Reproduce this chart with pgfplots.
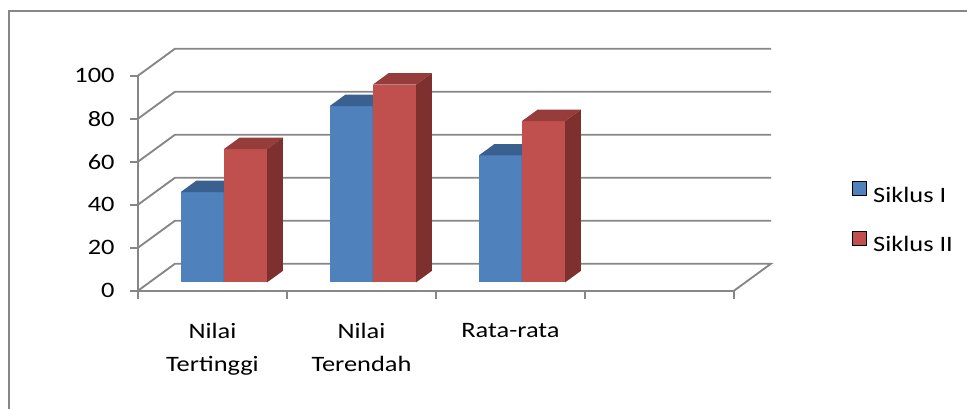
\documentclass[border=0pt]{standalone}
\usepackage{pgfplots}
\pgfplotsset{compat=1.18}
\usepackage{fontspec}
\setmainfont{Carlito}[FakeStretch=1.2]

\definecolor{gridgray}{RGB}{134,134,134}
\definecolor{sone}{RGB}{79,129,189}
\definecolor{sonetop}{RGB}{58,96,143}
\definecolor{soneside}{RGB}{45,77,117}
\definecolor{stwo}{RGB}{192,80,77}
\definecolor{stwotop}{RGB}{150,60,58}
\definecolor{stwoside}{RGB}{125,48,46}

% One column as a box: left x, right x, value, colour name
\newcommand{\cuboid}[4]{%
  \addplot3[fill=#4, draw=none] coordinates {(#1,0.31,0) (#2,0.31,0) (#2,0.31,#3) (#1,0.31,#3)} -- cycle;
  \addplot3[fill=#4top, draw=none] coordinates {(#1,0.31,#3) (#2,0.31,#3) (#2,0.735,#3) (#1,0.735,#3)} -- cycle;
  \addplot3[fill=#4side, draw=none] coordinates {(#2,0.31,0) (#2,0.735,0) (#2,0.735,#3) (#2,0.31,#3)} -- cycle;
}

\begin{document}
\begin{tikzpicture}
\useasboundingbox (0,0) rectangle (725.25pt,306pt);
% chart area frame
\draw[gridgray, line width=1.5pt] (6.75pt,-10pt) -- (6.75pt,297.75pt) -- (740pt,297.75pt);

% walls, floor and columns (oblique projection)
\begin{axis}[
  hide axis, clip=false,
  anchor=origin, at={(103.5pt,87.975pt)},
  x={(111.75pt,0pt)}, y={(27.75pt,20.25pt)}, z={(0pt,1.6125pt)},
  xmin=0, xmax=4, ymin=0, ymax=1, zmin=0, zmax=100,
  no markers,
  grid line/.style={gridgray, line width=1.4pt},
]
\addplot3[grid line] coordinates {(0,0,0) (0,1,0) (4,1,0) (4,0,0)};
\addplot3[grid line] coordinates {(0,0,20) (0,1,20) (4,1,20)};
\addplot3[grid line] coordinates {(0,0,40) (0,1,40) (4,1,40)};
\addplot3[grid line] coordinates {(0,0,60) (0,1,60) (4,1,60)};
\addplot3[grid line] coordinates {(0,0,80) (0,1,80) (4,1,80)};
\addplot3[grid line] coordinates {(0,0,100) (0,1,100) (4,1,100)};
% Nilai Tertinggi
\cuboid{0.21}{0.5}{42}{sone}
\cuboid{0.5}{0.79}{62}{stwo}
% Nilai Terendah
\cuboid{1.21}{1.5}{82}{sone}
\cuboid{1.5}{1.79}{92}{stwo}
% Rata-rata
\cuboid{2.21}{2.5}{59}{sone}
\cuboid{2.5}{2.79}{75}{stwo}
\end{axis}

% front axes, ticks, labels and legend
\begin{axis}[
  anchor=origin, at={(103.5pt,87.975pt)},
  x=111.75pt, y=1.6125pt,
  xmin=0, xmax=4, ymin=0, ymax=100,
  clip=false,
  axis lines*=left,
  axis line style={gridgray, line width=1.4pt},
  tick style={gridgray, line width=1.4pt},
  tick align=outside,
  major tick length=6pt,
  xtick={0,1,2,3,4}, xticklabels={},
  extra x ticks={0.5,1.5,2.5},
  extra x tick labels={{Nilai\\Tertinggi},{Nilai\\Terendah},{Rata-rata}},
  extra x tick style={major tick length=0pt,
    xticklabel style={align=center, anchor=north, yshift=-21pt}},
  ytick={0,20,40,60,80,100},
  /pgf/number format/assume math mode=true,
  ticklabel style={font=\fontsize{16.5}{24.5}\selectfont},
  yticklabel style={anchor=east, xshift=-8pt},
  legend style={at={(axis cs:4.79,51)}, anchor=north west,
    draw=none, fill=none, inner sep=0pt,
    font=\fontsize{16.5}{19}\selectfont,
    row sep=20pt,
    nodes={inner sep=0pt}},
  legend cell align=left,
  legend image code/.code={\fill[#1] (0pt,0pt) rectangle (10.5pt,10.5pt);},
]
\addlegendimage{fill=sone}
\addlegendentry{\hspace{5pt}Siklus I}
\addlegendimage{fill=stwo}
\addlegendentry{\hspace{5pt}Siklus II}
\end{axis}
\end{tikzpicture}
\end{document}
